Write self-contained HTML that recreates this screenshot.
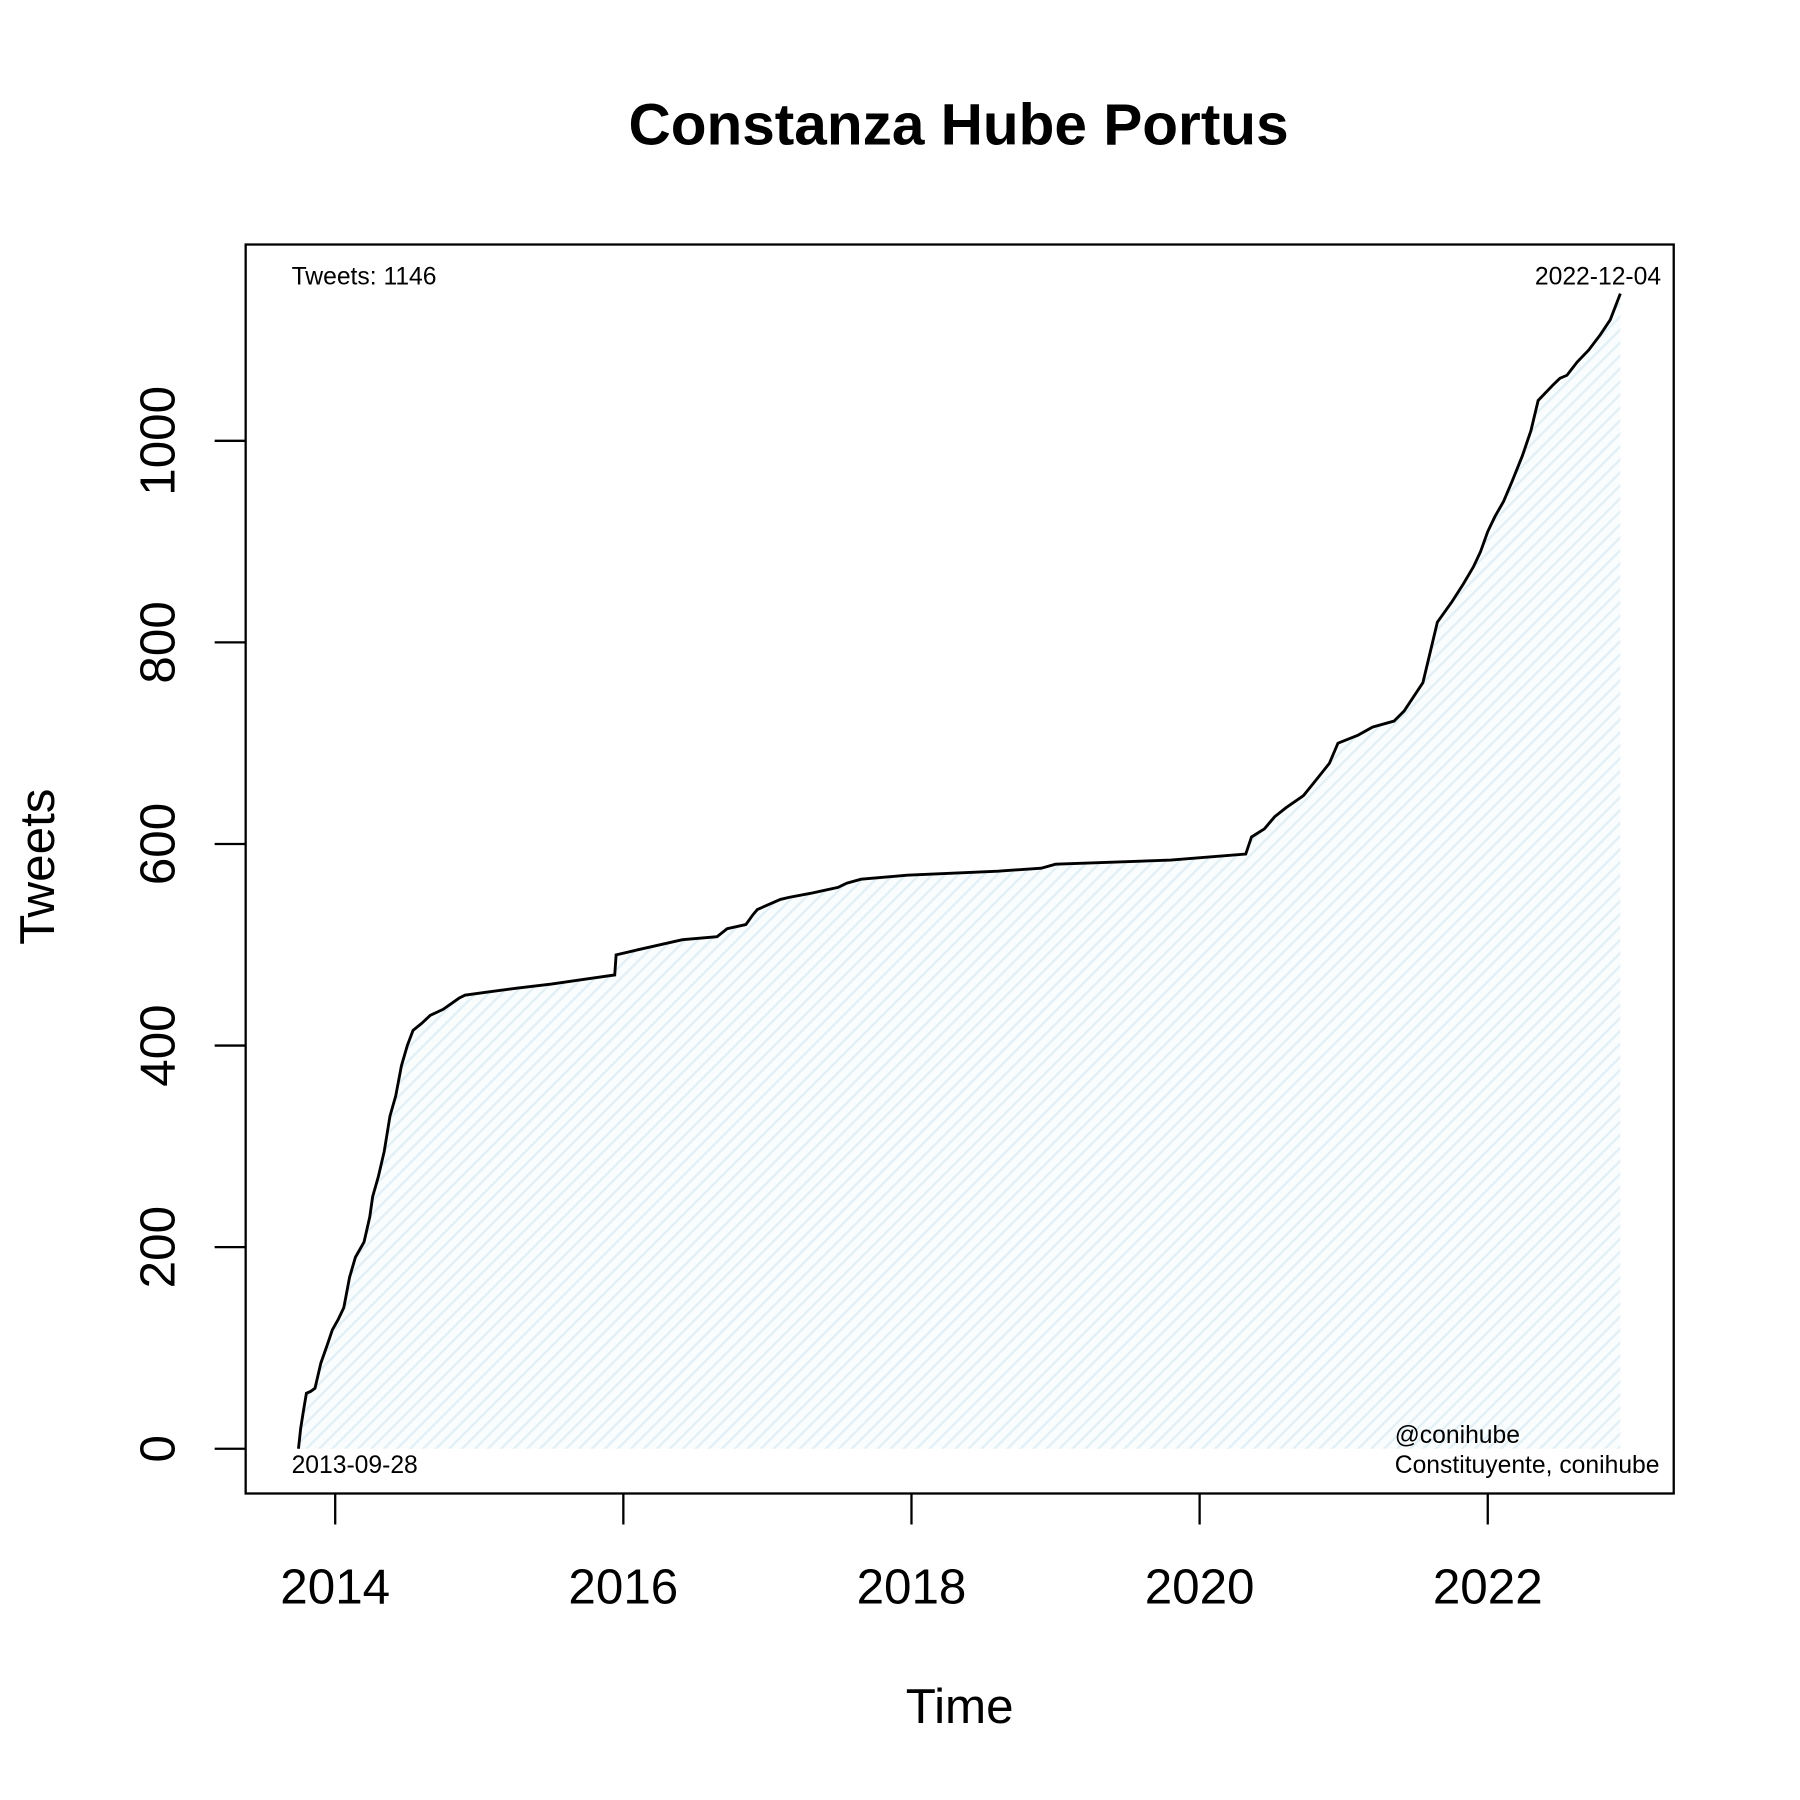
<!DOCTYPE html>
<html><head><meta charset="utf-8"><style>
html,body{margin:0;padding:0;background:#fff}
svg{display:block}
text{font-family:"Liberation Sans",Arial,sans-serif;fill:#000}
</style></head><body>
<svg id="chart" width="1800" height="1800" viewBox="0 0 1568 1568" xmlns="http://www.w3.org/2000/svg">
<defs>
<pattern id="hatch" patternUnits="userSpaceOnUse" width="8" height="8" patternTransform="rotate(45)">
<rect width="8" height="8" fill="#fafdfe"/>
<line x1="0" y1="0" x2="0" y2="8" stroke="#e2eff5" stroke-width="4"/>
</pattern>
</defs>
<text x="835" y="126" font-size="51" font-weight="bold" text-anchor="middle">Constanza Hube Portus</text>
<g id="fill-g"></g>
<g id="line-g"></g>
<rect x="214" y="213" width="1244" height="1088" fill="none" stroke="#000" stroke-width="2"/>
<g id="axes"></g>
<text transform="translate(47,755) rotate(-90)" font-size="43" text-anchor="middle">Tweets</text>
<text x="836" y="1501" font-size="43" text-anchor="middle">Time</text>
<text x="254" y="248" font-size="21.5">Tweets: 1146</text>
<text x="1447" y="248" font-size="21.5" text-anchor="end">2022-12-04</text>
<text x="254" y="1283" font-size="21.5">2013-09-28</text>
<text x="1215" y="1257" font-size="21.5">@conihube</text>
<text x="1215" y="1283" font-size="21.5">Constituyente, conihube</text>
</svg>
<script>
const years = [2013.745,2013.76,2013.78,2013.8,2013.83,2013.86,2013.9,2013.95,2013.98,2014.02,2014.06,2014.1,2014.14,2014.2,2014.24,2014.26,2014.3,2014.34,2014.38,2014.42,2014.46,2014.5,2014.54,2014.6,2014.66,2014.75,2014.86,2014.9,2015.05,2015.26,2015.5,2015.74,2015.94,2015.95,2016.1,2016.41,2016.65,2016.72,2016.85,2016.9,2016.93,2017.09,2017.15,2017.3,2017.49,2017.55,2017.65,2017.97,2018.6,2018.9,2019.0,2019.8,2020.32,2020.36,2020.45,2020.52,2020.6,2020.72,2020.8,2020.9,2020.96,2021.1,2021.2,2021.35,2021.42,2021.55,2021.6,2021.65,2021.75,2021.83,2021.9,2021.95,2022.0,2022.05,2022.11,2022.17,2022.24,2022.3,2022.35,2022.45,2022.5,2022.55,2022.62,2022.7,2022.78,2022.85,2022.92];
const tweets = [0,20,38,55,57,60,85,105,118,128,140,170,190,205,230,250,270,295,330,350,380,400,415,422,430,436,447,450,453,457,461,466,470,490,495,505,508,516,520,530,535,545,547,551,557,561,565,569,573,576,580,584,590,607,615,627,636,648,662,680,700,708,716,722,732,760,790,820,840,858,875,890,910,925,940,960,985,1010,1040,1055,1062,1065,1078,1090,1105,1120,1146];
const xTicks = [2014,2016,2018,2020,2022];
const yTicks = [0,200,400,600,800,1000];
const NS="http://www.w3.org/2000/svg";
const sx = v => 292 + (v-2014)*125.5;
const sy = v => 1262 - v*0.878;
let pts = years.map((y,i)=>sx(y).toFixed(1)+","+sy(tweets[i]).toFixed(1));
const area=document.createElementNS(NS,"polygon");
area.setAttribute("points", pts.join(" ")+" "+sx(years[years.length-1])+","+sy(0)+" "+sx(years[0])+","+sy(0));
area.setAttribute("fill","url(#hatch)");


document.getElementById("fill-g").appendChild(area);
const line=document.createElementNS(NS,"polyline");
line.setAttribute("points", pts.join(" "));
line.setAttribute("fill","none");line.setAttribute("stroke","#000");line.setAttribute("stroke-width","2.5");


document.getElementById("line-g").appendChild(line);
const ax=document.getElementById("axes");
xTicks.forEach(t=>{
  const l=document.createElementNS(NS,"line");
  l.setAttribute("x1",sx(t));l.setAttribute("x2",sx(t));l.setAttribute("y1",1301);l.setAttribute("y2",1328);
  l.setAttribute("stroke","#000");l.setAttribute("stroke-width","2");
  
  
  ax.appendChild(l);
  const tx=document.createElementNS(NS,"text");
  tx.setAttribute("x",sx(t));tx.setAttribute("y",1397);tx.setAttribute("font-size","43");tx.setAttribute("text-anchor","middle");
  tx.textContent=t;
  
  
  ax.appendChild(tx);
});
yTicks.forEach(t=>{
  const l=document.createElementNS(NS,"line");
  l.setAttribute("x1",187);l.setAttribute("x2",214);l.setAttribute("y1",sy(t));l.setAttribute("y2",sy(t));
  l.setAttribute("stroke","#000");l.setAttribute("stroke-width","2");
  
  
  ax.appendChild(l);
  const tx=document.createElementNS(NS,"text");
  tx.setAttribute("transform","translate(152,"+sy(t)+") rotate(-90)");
  tx.setAttribute("font-size","43");tx.setAttribute("text-anchor","middle");
  tx.textContent=t;
  
  
  ax.appendChild(tx);
});
</script>
</body></html>
